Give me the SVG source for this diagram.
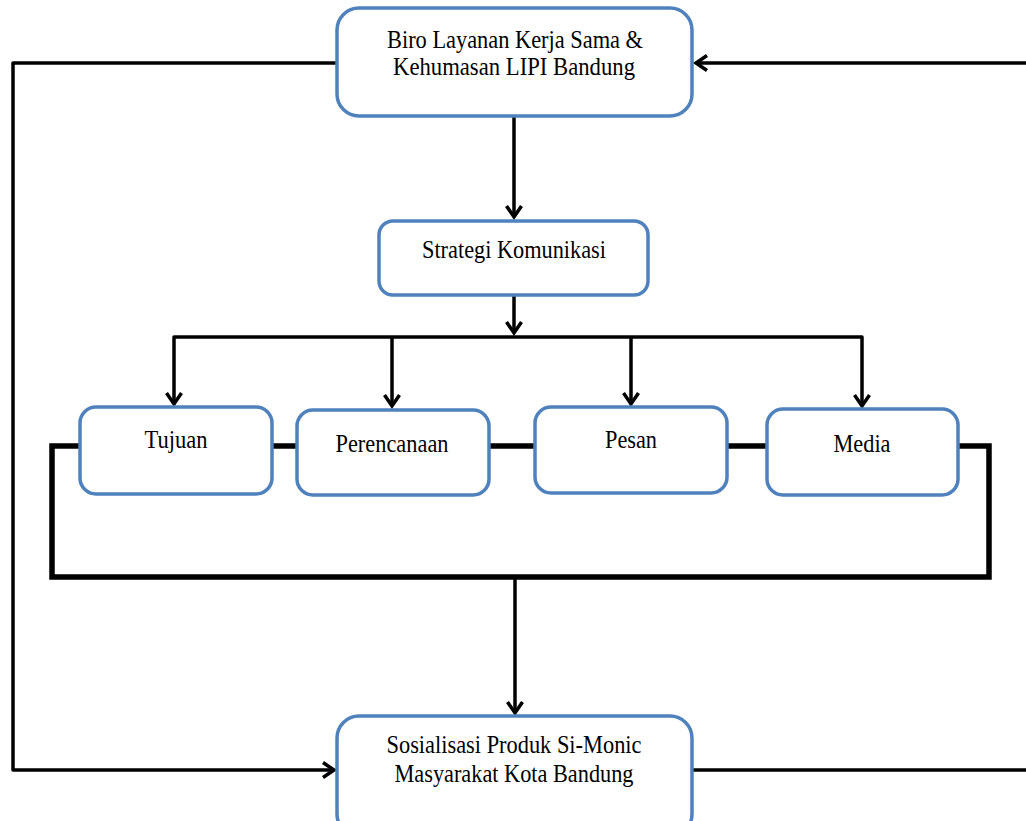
<svg xmlns="http://www.w3.org/2000/svg" width="1026" height="821" viewBox="0 0 1026 821">
<style>
.box{fill:#fff;stroke:#4F81BD;stroke-width:3.5}
.t{font-family:"Liberation Serif","Times New Roman",serif;font-size:25px;fill:#000;text-anchor:middle}
.ln{fill:none;stroke:#000;stroke-width:3.5;stroke-linejoin:round}
.thk{fill:none;stroke:#000;stroke-width:5.5}
</style>
<defs>
<marker id="ah" markerUnits="userSpaceOnUse" markerWidth="20" markerHeight="20" viewBox="-14 -10 16 20" refX="0" refY="0" orient="auto">
<path d="M-11,-7.5 L0,0 L-11,7.5" fill="none" stroke="#000" stroke-width="3.5" stroke-linejoin="miter"/>
</marker>
</defs>
<g id="connectors">
<path class="ln" d="M337,63 H13 V770 H334" marker-end="url(#ah)"/>
<path class="ln" d="M693,770 H1040 V63 H696" marker-end="url(#ah)"/>
<path class="ln" d="M514,117 V217" marker-end="url(#ah)"/>
<path class="ln" d="M514,295 V333" marker-end="url(#ah)"/>
<path class="ln" d="M514,337 H174 V404" marker-end="url(#ah)"/>
<path class="ln" d="M514,337 H862 V406" marker-end="url(#ah)"/>
<path class="ln" d="M392,337 V406" marker-end="url(#ah)"/>
<path class="ln" d="M631,337 V404" marker-end="url(#ah)"/>
<path class="thk" d="M80,446 H52 V577 H989 V446 H958"/>
<path class="thk" d="M272,446 H297 M489,446 H535 M727,446 H767"/>
<path class="ln" d="M515,577 V713" marker-end="url(#ah)"/>
</g>
<g id="biro">
<rect class="box" x="337" y="8" width="355" height="108" rx="22"/>
<text class="t" x="515" y="48" textLength="256" lengthAdjust="spacingAndGlyphs">Biro Layanan Kerja Sama &amp;</text>
<text class="t" x="514" y="75" textLength="242" lengthAdjust="spacingAndGlyphs">Kehumasan LIPI Bandung</text>
</g>
<g id="strategi">
<rect class="box" x="379" y="221" width="269" height="74" rx="14"/>
<text class="t" x="514" y="258" textLength="184" lengthAdjust="spacingAndGlyphs">Strategi Komunikasi</text>
</g>
<g id="tujuan">
<rect class="box" x="80" y="407" width="192" height="87" rx="16"/>
<text class="t" x="176" y="448" textLength="63" lengthAdjust="spacingAndGlyphs">Tujuan</text>
</g>
<g id="perencanaan">
<rect class="box" x="297" y="410" width="192" height="85" rx="16"/>
<text class="t" x="392" y="452" textLength="113" lengthAdjust="spacingAndGlyphs">Perencanaan</text>
</g>
<g id="pesan">
<rect class="box" x="535" y="407" width="192" height="86" rx="16"/>
<text class="t" x="631" y="448" textLength="52" lengthAdjust="spacingAndGlyphs">Pesan</text>
</g>
<g id="media">
<rect class="box" x="767" y="409" width="191" height="86" rx="16"/>
<text class="t" x="862" y="452" textLength="57" lengthAdjust="spacingAndGlyphs">Media</text>
</g>
<g id="sosialisasi">
<rect class="box" x="337" y="716" width="355" height="120" rx="22"/>
<text class="t" x="514" y="753" textLength="255" lengthAdjust="spacingAndGlyphs">Sosialisasi Produk Si-Monic</text>
<text class="t" x="514" y="782" textLength="239" lengthAdjust="spacingAndGlyphs">Masyarakat Kota Bandung</text>
</g>
</svg>
